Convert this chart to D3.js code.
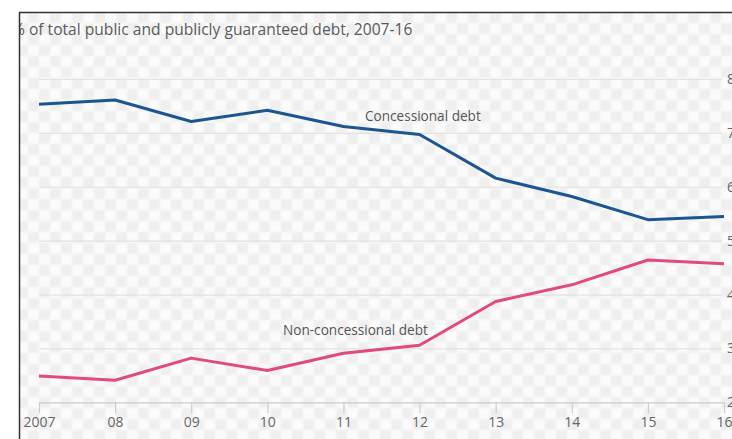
<!DOCTYPE html>
<html>
<head>
<meta charset="utf-8">
<script src="https://cdn.jsdelivr.net/npm/d3@7"></script>
<style>
  html, body { margin: 0; padding: 0; background: #fff; }
  svg { display: block; }
</style>
</head>
<body>
<svg id="chart" width="732" height="439"></svg>
<script>
// Share of public and publicly guaranteed debt, 2007-16 (%)
const years = [2007, 2008, 2009, 2010, 2011, 2012, 2013, 2014, 2015, 2016];
const concessional = [75.3, 76.1, 72.1, 74.2, 71.2, 69.7, 61.6, 58.2, 53.9, 54.5];
const nonConcessional = [24.9, 24.1, 28.2, 25.9, 29.1, 30.6, 38.7, 41.8, 46.4, 45.7];
const yTicks = [20, 30, 40, 50, 60, 70, 80];
const xTickLabels = ["2007", "08", "09", "10", "11", "12", "13", "14", "15", "16"];
const title = "% of total public and publicly guaranteed debt, 2007-16";
const seriesLabels = ["Concessional debt", "Non-concessional debt"];

const svg = d3.select("#chart");
const W = 732, H = 439;
const frame = { left: 19.5, top: 12.5 };
const plot = { left: 39, right: 724, top: 79, bottom: 402.3 };

const x = d3.scaleLinear().domain([2007, 2016]).range([plot.left, plot.right]);
const y = d3.scaleLinear().domain([20, 80]).range([plot.bottom, plot.top]);

const defs = svg.append("defs");

// soft checkered backdrop
const pat = defs.append("pattern")
  .attr("id", "checks")
  .attr("patternUnits", "userSpaceOnUse")
  .attr("x", 6).attr("y", 12)
  .attr("width", 22).attr("height", 22);
pat.append("rect").attr("width", 22).attr("height", 22).attr("fill", "#fbfbfb");
pat.append("rect").attr("x", 0).attr("y", 0).attr("width", 11).attr("height", 11).attr("fill", "#efefef");
pat.append("rect").attr("x", 11).attr("y", 11).attr("width", 11).attr("height", 11).attr("fill", "#efefef");

defs.append("filter").attr("id", "soft")
  .append("feGaussianBlur").attr("stdDeviation", 0.9);

defs.append("clipPath").attr("id", "inside")
  .append("rect").attr("x", frame.left).attr("y", frame.top)
  .attr("width", W).attr("height", H);

const inner = svg.append("g").attr("clip-path", "url(#inside)");

inner.append("rect")
  .attr("x", frame.left - 2).attr("y", frame.top - 2)
  .attr("width", W + 4).attr("height", H + 4)
  .attr("fill", "url(#checks)")
  .attr("filter", "url(#soft)");

// title
inner.append("text")
  .attr("x", 12).attr("y", 35)
  .attr("font-family", "'Open Sans', sans-serif")
  .attr("font-size", 15.6)
  .attr("fill", "#5a5a5a")
  .text(title);

// horizontal gridlines with value labels on the right
const yAxis = d3.axisRight(y)
  .tickValues(yTicks)
  .tickSize(plot.right - 2 - plot.left)
  .tickPadding(5)
  .tickFormat(d => d);

const gy = inner.append("g")
  .attr("transform", `translate(${plot.left},0)`)
  .call(yAxis);
gy.select(".domain").remove();
gy.selectAll(".tick line")
  .attr("stroke", "#e4e2da")
  .attr("stroke-width", 1.2)
  .attr("display", d => d === 20 ? "none" : null);
gy.selectAll(".tick text")
  .attr("font-family", "'Open Sans', sans-serif")
  .attr("font-size", 14)
  .attr("fill", "#666");

// bottom axis: line with ticks hanging below
const xAxis = d3.axisBottom(x)
  .tickValues(years)
  .tickSize(11)
  .tickSizeOuter(0)
  .tickPadding(4)
  .tickFormat((d, i) => xTickLabels[i]);

const gx = inner.append("g")
  .attr("transform", `translate(0,${plot.bottom})`)
  .call(xAxis);
gx.select(".domain").attr("stroke", "#cfcdc6").attr("stroke-width", 1.2);
gx.selectAll(".tick line").attr("stroke", "#cfcdc6").attr("stroke-width", 1.2);
gx.selectAll(".tick text")
  .attr("font-family", "'Open Sans', sans-serif")
  .attr("font-size", 14)
  .attr("fill", "#666");

// series
const line = d3.line()
  .x((d, i) => x(years[i]))
  .y(d => y(d));

inner.append("path")
  .datum(concessional)
  .attr("d", line)
  .attr("fill", "none")
  .attr("stroke", "#1c5590")
  .attr("stroke-width", 3)
  .attr("stroke-linejoin", "round");

inner.append("path")
  .datum(nonConcessional)
  .attr("d", line)
  .attr("fill", "none")
  .attr("stroke", "#e24a7f")
  .attr("stroke-width", 3)
  .attr("stroke-linejoin", "round");

// series labels
inner.append("text")
  .attr("x", 365).attr("y", 121)
  .attr("font-family", "'Open Sans', sans-serif")
  .attr("font-size", 13.6)
  .attr("fill", "#555")
  .text(seriesLabels[0]);

inner.append("text")
  .attr("x", 283).attr("y", 335)
  .attr("font-family", "'Open Sans', sans-serif")
  .attr("font-size", 13.6)
  .attr("fill", "#555")
  .text(seriesLabels[1]);

// frame
svg.append("path")
  .attr("d", `M${frame.left},${H} V${frame.top} H${W}`)
  .attr("fill", "none")
  .attr("stroke", "#333")
  .attr("stroke-width", 1.5);
</script>
</body>
</html>
